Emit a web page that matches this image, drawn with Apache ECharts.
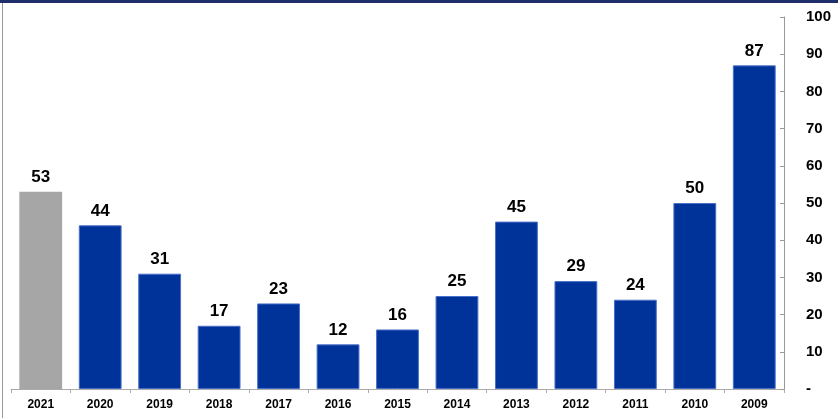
<!DOCTYPE html>
<html><head><meta charset="utf-8">
<script src="https://cdn.jsdelivr.net/npm/echarts@6/dist/echarts.min.js"></script>
<style>html,body{margin:0;padding:0;background:#fff}#c{width:838px;height:418px}</style>
</head><body><div id="c"></div>
<script>
const categories = ['2021','2020','2019','2018','2017','2016','2015','2014','2013','2012','2011','2010','2009'];
const values = [53, 44, 31, 17, 23, 12, 16, 25, 45, 29, 24, 50, 87];
const highlightIndex = 0;
const yTicks = [0,10,20,30,40,50,60,70,80,90,100];

const chart = echarts.init(document.getElementById('c'), null, {renderer:'canvas'});
chart.setOption({
  animation:false,
  backgroundColor:'#fff',
  grid:{left:11, right:54, top:17, bottom:29, containLabel:false},
  graphic:[
    {type:'rect', shape:{x:0,y:0,width:838,height:3}, style:{fill:'#1F2F6B'}},
    {type:'line', shape:{x1:2.5,y1:3,x2:2.5,y2:418}, style:{stroke:'#999',lineWidth:1}}
  ],
  xAxis:{
    type:'category', data:categories,
    axisLine:{show:true, lineStyle:{color:'#aaa'}},
    axisTick:{show:true, length:4, lineStyle:{color:'#aaa'}},
    axisLabel:{color:'#000', fontWeight:'bold', fontSize:12, fontFamily:'Liberation Sans, Arial', margin:10}
  },
  yAxis:{
    type:'value', position:'right', min:0, max:100, interval:10,
    splitLine:{show:false},
    axisLine:{show:true, lineStyle:{color:'#999'}},
    axisTick:{show:true, inside:true, length:4, lineStyle:{color:'#999'}},
    axisLabel:{color:'#000', fontWeight:'bold', fontSize:15, fontFamily:'Liberation Sans, Arial', margin:22, align:'left',
      formatter:v=> v===0 ? '-' : String(v)}
  },
  series:[{
    type:'bar',
    data: values.map((v,i)=>({value:v, itemStyle: i===highlightIndex ? {color:'#A6A6A6', borderColor:'#A6A6A6', borderWidth:0} : {color:'#003399', borderColor:'#4A6FC8', borderWidth:1}})),
    barCategoryGap:'28%',
    label:{show:true, position:'top', distance:6, color:'#000', fontWeight:'bold', fontSize:17, fontFamily:'Liberation Sans, Arial'}
  }]
});
</script></body></html>
